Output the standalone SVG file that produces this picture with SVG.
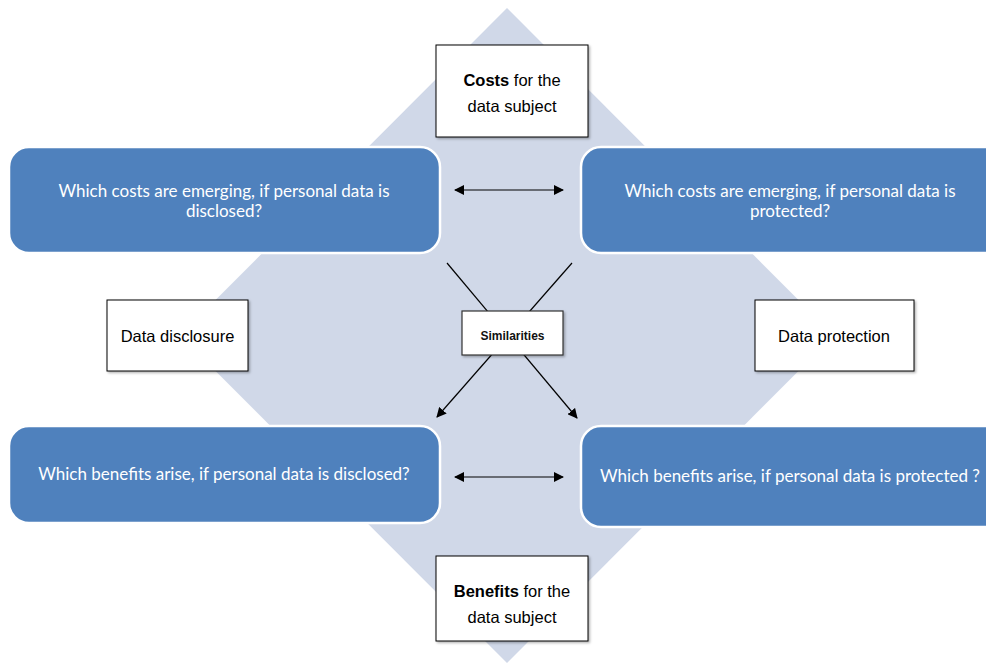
<svg xmlns="http://www.w3.org/2000/svg" width="986" height="664" viewBox="0 0 986 664">
<defs>
<marker id="ah" viewBox="0 0 10 10" refX="9" refY="5" markerWidth="10" markerHeight="10" markerUnits="userSpaceOnUse" orient="auto-start-reverse">
<path d="M0,0 L10,5 L0,10 z" fill="#000"/>
</marker>
<filter id="sh" x="-10%" y="-10%" width="130%" height="130%">
<feDropShadow dx="1.5" dy="1.5" stdDeviation="1" flood-color="#000" flood-opacity="0.3"/>
</filter>
</defs>
<style>
.blue{fill:#4F81BD;stroke:#FFFFFF;stroke-width:2.5}
.bt{font-family:Lato,"Open Sans",sans-serif;font-size:17px;fill:#FFFFFF;text-anchor:middle}
.wb{fill:#FFFFFF;stroke:#000;stroke-width:1}
.wt{font-family:"Liberation Sans",Arial,sans-serif;font-size:16.5px;fill:#000;text-anchor:middle}
.conn{stroke:#000;stroke-width:1.2;fill:none}
</style>
<rect width="986" height="664" fill="#FFFFFF"/>
<polygon id="diamond" points="507,8 834,335.5 507,663 180,335.5" fill="#D0D8E8"/>

<g id="connectors">
<line class="conn" x1="447" y1="263" x2="577" y2="418" marker-end="url(#ah)"/>
<line class="conn" x1="572" y1="263" x2="437" y2="417" marker-end="url(#ah)"/>
<line class="conn" x1="455" y1="190" x2="563" y2="190" marker-start="url(#ah)" marker-end="url(#ah)"/>
<line class="conn" x1="455" y1="477" x2="563" y2="477" marker-start="url(#ah)" marker-end="url(#ah)"/>
</g>

<g id="costs-disclosed">
<rect class="blue" x="9" y="147" width="431" height="106" rx="20"/>
<text class="bt" x="224" y="197">Which costs are emerging, if personal data is</text>
<text class="bt" x="224" y="217">disclosed?</text>
</g>
<g id="costs-protected">
<rect class="blue" x="581" y="147" width="430" height="106" rx="20"/>
<text class="bt" x="790" y="197">Which costs are emerging, if personal data is</text>
<text class="bt" x="790" y="217">protected?</text>
</g>
<g id="benefits-disclosed">
<rect class="blue" x="9" y="426" width="431" height="97" rx="20"/>
<text class="bt" x="224" y="480">Which benefits arise, if personal data is disclosed?</text>
</g>
<g id="benefits-protected">
<rect class="blue" x="581" y="426" width="430" height="101" rx="20"/>
<text class="bt" x="790" y="482">Which benefits arise, if personal data is protected ?</text>
</g>

<g id="costs-subject">
<rect class="wb" x="436" y="45" width="152" height="92" filter="url(#sh)"/>
<text class="wt" x="512" y="86"><tspan font-weight="bold">Costs</tspan> for the</text>
<text class="wt" x="512" y="112">data subject</text>
</g>
<g id="benefits-subject">
<rect class="wb" x="436" y="556" width="152" height="85" filter="url(#sh)"/>
<text class="wt" x="512" y="597"><tspan font-weight="bold">Benefits</tspan> for the</text>
<text class="wt" x="512" y="623">data subject</text>
</g>
<g id="data-disclosure">
<rect class="wb" x="107" y="300" width="141" height="71" filter="url(#sh)"/>
<text class="wt" x="177.5" y="342">Data disclosure</text>
</g>
<g id="data-protection">
<rect class="wb" x="755" y="300" width="159" height="71" filter="url(#sh)"/>
<text class="wt" x="834" y="342">Data protection</text>
</g>
<g id="similarities">
<rect x="462" y="311" width="101" height="44" fill="#FFFFFF" stroke="#333" stroke-width="1.2" filter="url(#sh)"/>
<text x="512.5" y="340" font-family="'Liberation Sans',Arial,sans-serif" font-size="12px" font-weight="bold" text-anchor="middle" fill="#111">Similarities</text>
</g>
</svg>
